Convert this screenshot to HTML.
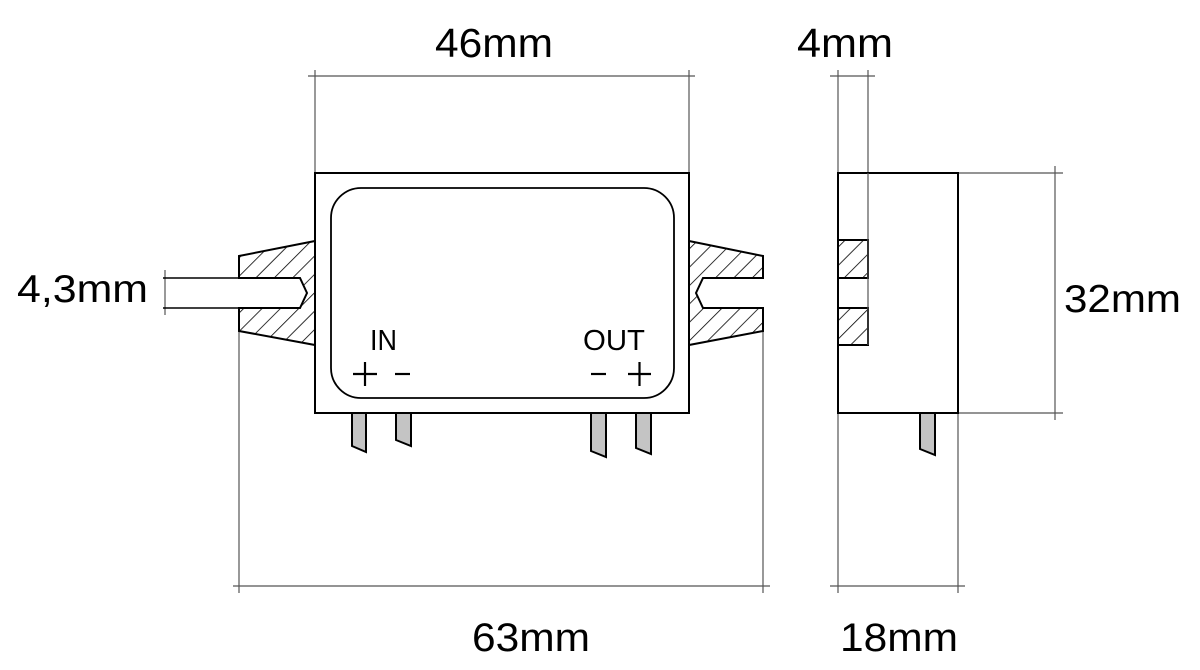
<!DOCTYPE html>
<html><head><meta charset="utf-8"><style>html,body{margin:0;padding:0;background:#fff}svg{display:block}</style></head>
<body>
<svg width="1200" height="670" viewBox="0 0 1200 670" xmlns="http://www.w3.org/2000/svg">
<defs>
<pattern id="h" patternUnits="userSpaceOnUse" width="13" height="13" patternTransform="rotate(45)">
<rect width="13" height="13" fill="#fff"/><line x1="0" y1="0" x2="0" y2="13" stroke="#000" stroke-width="1.6"/>
</pattern>
</defs>
<g stroke="#555" stroke-width="1.2" fill="none">
<line x1="308" y1="76" x2="695" y2="76"/>
<line x1="315" y1="70" x2="315" y2="173"/>
<line x1="689" y1="70" x2="689" y2="173"/>
<line x1="233" y1="586" x2="770" y2="586"/>
<line x1="239" y1="331" x2="239" y2="593"/>
<line x1="763" y1="331" x2="763" y2="593"/>
<line x1="165" y1="270" x2="165" y2="315"/>
<line x1="830" y1="76" x2="875" y2="76"/>
<line x1="838" y1="70" x2="838" y2="593"/>
<line x1="868" y1="70" x2="868" y2="240"/>
<line x1="830" y1="586" x2="965" y2="586"/>
<line x1="958" y1="413" x2="958" y2="593"/>
<line x1="958" y1="173" x2="1063" y2="173"/>
<line x1="958" y1="413" x2="1063" y2="413"/>
<line x1="1055" y1="166" x2="1055" y2="420"/>
</g>
<g stroke="#000" stroke-width="2">
<polygon points="239,256 315,241 315,345 239,331 239,308 300,308 307,293 300,278 239,278" fill="url(#h)"/>
<polygon points="689,241 763,256 763,278 703,278 696,293 703,308 763,308 763,331 689,345" fill="url(#h)"/>
<line x1="163" y1="278" x2="239" y2="278" stroke-width="1.5"/>
<line x1="163" y1="308" x2="239" y2="308" stroke-width="1.5"/>
<rect x="315" y="173" width="374" height="240" fill="#fff"/>
<rect x="331" y="188" width="343" height="210" rx="30" ry="30" fill="none" stroke-width="1.8"/>
<polygon points="352,413 366,413 366,452 352,446" fill="#c4c4c4"/>
<polygon points="396,413 411,413 411,446 396,440" fill="#c4c4c4"/>
<polygon points="591,413 606,413 606,457 591,451" fill="#c4c4c4"/>
<polygon points="636,413 651,413 651,454 636,448" fill="#c4c4c4"/>
<rect x="838" y="173" width="120" height="240" fill="#fff"/>
<rect x="838" y="240" width="30" height="38" fill="url(#h)"/>
<rect x="838" y="308" width="30" height="37" fill="url(#h)"/>
<polygon points="920,413 935,413 935,455 920,449" fill="#c4c4c4"/>
</g>
<line x1="868" y1="173" x2="868" y2="345" stroke="#555" stroke-width="1.2"/>
<g font-family="'Liberation Sans', sans-serif" fill="#000">
<text x="435" y="57" font-size="41" textLength="118" lengthAdjust="spacingAndGlyphs">46mm</text>
<text x="797" y="57" font-size="41" textLength="96" lengthAdjust="spacingAndGlyphs">4mm</text>
<text x="17" y="302" font-size="39" textLength="131" lengthAdjust="spacingAndGlyphs">4,3mm</text>
<text x="1064" y="312" font-size="39" textLength="117" lengthAdjust="spacingAndGlyphs">32mm</text>
<text x="472" y="651" font-size="40" textLength="118" lengthAdjust="spacingAndGlyphs">63mm</text>
<text x="840" y="651" font-size="40" textLength="118" lengthAdjust="spacingAndGlyphs">18mm</text>
<text x="370" y="350" font-size="29" textLength="27" lengthAdjust="spacingAndGlyphs">IN</text>
<text x="583" y="350" font-size="29" textLength="62" lengthAdjust="spacingAndGlyphs">OUT</text>
</g>
<g stroke="#000" stroke-width="2.2">
<line x1="353" y1="374" x2="377" y2="374"/><line x1="365" y1="362" x2="365" y2="386"/>
<line x1="395" y1="374" x2="410" y2="374"/>
<line x1="591" y1="374" x2="606" y2="374"/>
<line x1="628" y1="374" x2="651" y2="374"/><line x1="639.5" y1="362" x2="639.5" y2="386"/>
</g>
</svg>
</body></html>
